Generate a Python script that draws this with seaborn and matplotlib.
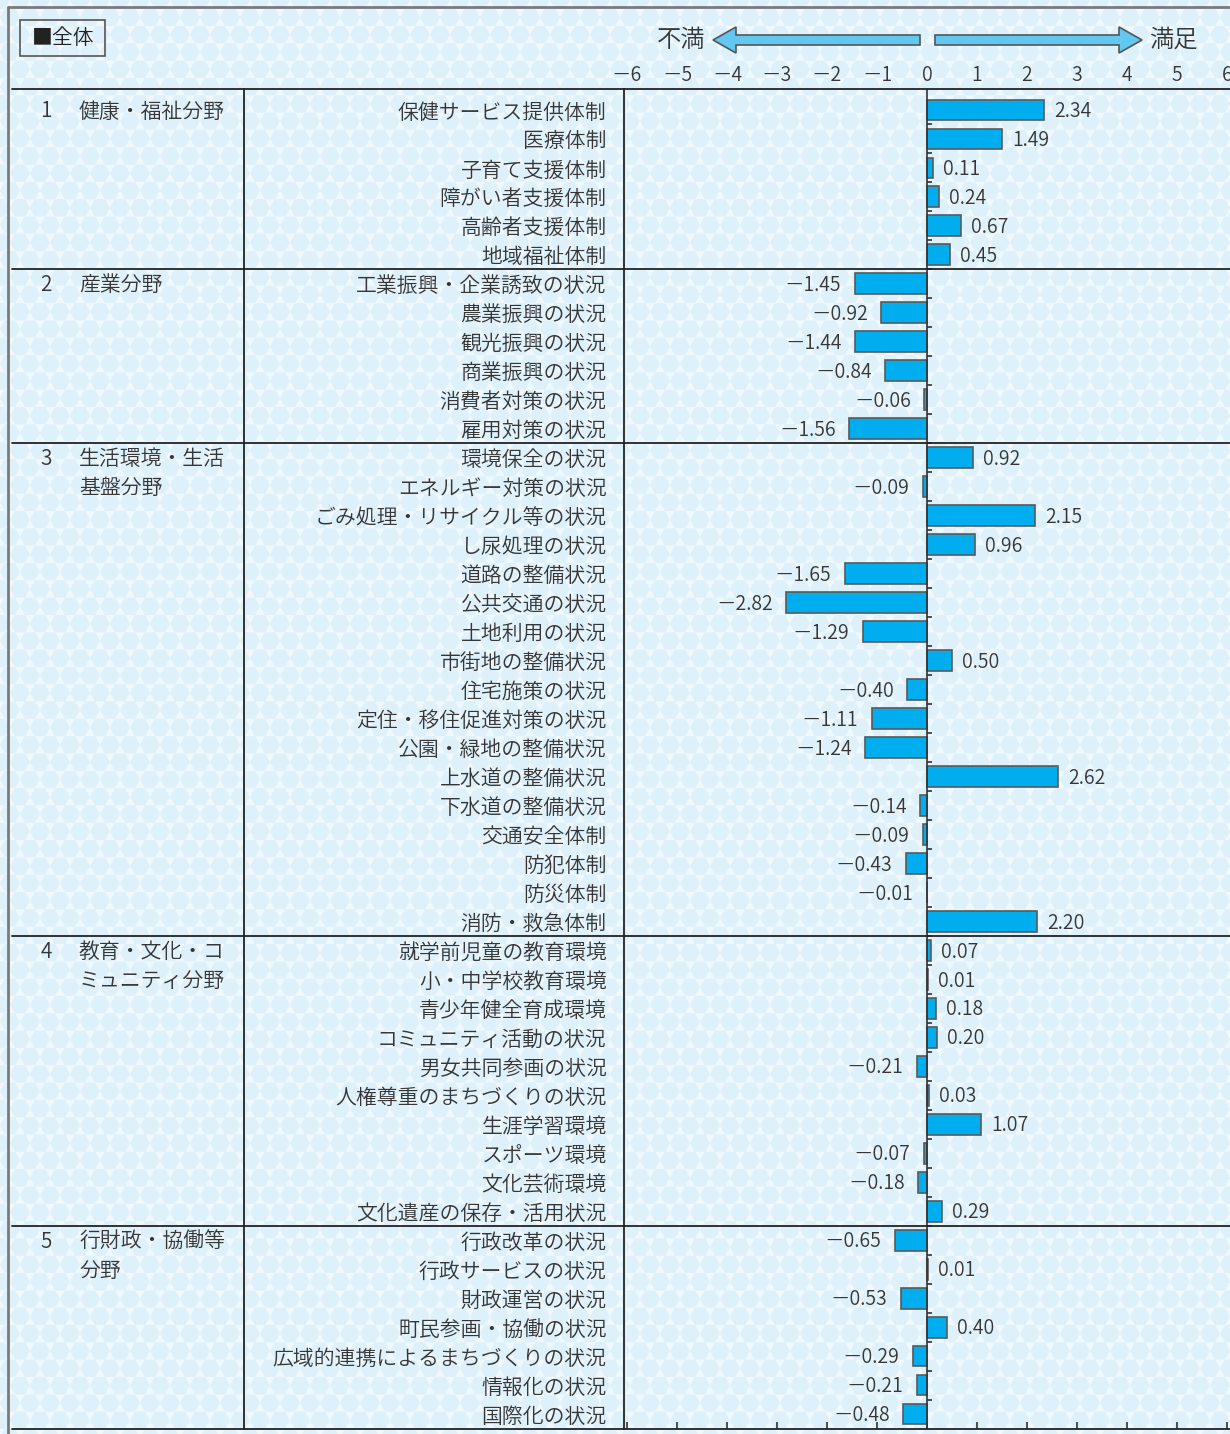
import numpy as np
import pandas as pd
import matplotlib
matplotlib.use('Agg')
import matplotlib.pyplot as plt
import matplotlib.transforms as mtransforms
from matplotlib.patches import RegularPolygon, Rectangle, Polygon
from matplotlib.collections import PatchCollection
import seaborn as sns

# data, one list per field
groups = ['健康・福祉分野', '産業分野', '生活環境・生活\n基盤分野',
          '教育・文化・コ\nミュニティ分野', '行財政・協働等\n分野']

items_1 = ['保健サービス提供体制', '医療体制', '子育て支援体制', '障がい者支援体制',
           '高齢者支援体制', '地域福祉体制']
values_1 = [2.34, 1.49, 0.11, 0.24, 0.67, 0.45]

items_2 = ['工業振興・企業誘致の状況', '農業振興の状況', '観光振興の状況', '商業振興の状況',
           '消費者対策の状況', '雇用対策の状況']
values_2 = [-1.45, -0.92, -1.44, -0.84, -0.06, -1.56]

items_3 = ['環境保全の状況', 'エネルギー対策の状況', 'ごみ処理・リサイクル等の状況', 'し尿処理の状況',
           '道路の整備状況', '公共交通の状況', '土地利用の状況', '市街地の整備状況',
           '住宅施策の状況', '定住・移住促進対策の状況', '公園・緑地の整備状況', '上水道の整備状況',
           '下水道の整備状況', '交通安全体制', '防犯体制', '防災体制', '消防・救急体制']
values_3 = [0.92, -0.09, 2.15, 0.96, -1.65, -2.82, -1.29, 0.50, -0.40, -1.11, -1.24,
            2.62, -0.14, -0.09, -0.43, -0.01, 2.20]

items_4 = ['就学前児童の教育環境', '小・中学校教育環境', '青少年健全育成環境', 'コミュニティ活動の状況',
           '男女共同参画の状況', '人権尊重のまちづくりの状況', '生涯学習環境', 'スポーツ環境',
           '文化芸術環境', '文化遺産の保存・活用状況']
values_4 = [0.07, 0.01, 0.18, 0.20, -0.21, 0.03, 1.07, -0.07, -0.18, 0.29]

items_5 = ['行政改革の状況', '行政サービスの状況', '財政運営の状況', '町民参画・協働の状況',
           '広域的連携によるまちづくりの状況', '情報化の状況', '国際化の状況']
values_5 = [-0.65, 0.01, -0.53, 0.40, -0.29, -0.21, -0.48]

ticks = [-6, -5, -4, -3, -2, -1, 0, 1, 2, 3, 4, 5, 6]

all_items = [items_1, items_2, items_3, items_4, items_5]
all_values = [values_1, values_2, values_3, values_4, values_5]
rows = []
for g, (its, vals) in enumerate(zip(all_items, all_values)):
    for it, v in zip(its, vals):
        rows.append({'group': g, 'item': it, 'value': v})
df = pd.DataFrame(rows)

MINUS = '\uff0d'


def fmt(v, nd):
    s = f'{abs(v):.{nd}f}'
    return MINUS + s if v < 0 else s


TXT = '#363636'
sns.set_style('white')
plt.rcParams['font.family'] = ['Noto Sans CJK JP', 'DejaVu Sans']
plt.rcParams['font.weight'] = 350

W, H = 1230, 1434
fig = plt.figure(figsize=(W / 100, H / 100), dpi=100)

# background with hexagon pattern, pixel coordinates
bg = fig.add_axes([0, 0, 1, 1], zorder=0)
bg.set_xlim(0, W)
bg.set_ylim(H, 0)
bg.axis('off')
bg.add_patch(Rectangle((0, 0), W, H, color='#eef8fd', zorder=0))
a = 10.0
hexes = []
for j in range(int(H / (np.sqrt(3) * a)) + 2):
    for i in range(int(W / (2 * a)) + 2):
        cx = 2 * a * i + (j % 2) * a
        cy = np.sqrt(3) * a * j
        hexes.append(RegularPolygon((cx, cy), 6, radius=a, orientation=np.pi / 6))
bg.add_collection(PatchCollection(hexes, facecolor='#def1fb', edgecolor='none', zorder=1))

# frame
bg.plot([8, W], [7, 7], color='#7a7a7a', lw=2, zorder=3)
bg.plot([8, 8], [7, H], color='#7a7a7a', lw=2, zorder=3)

# legend box
bg.add_patch(Rectangle((20, 20), 85, 36, fill=False, edgecolor='#555555', lw=1.2, zorder=3))
bg.text(32, 38, '■全体', fontsize=15, color='#222222', va='center', ha='left', zorder=4)

# arrows
left_arrow = [(713, 40), (736, 27), (736, 35), (920, 35), (920, 45), (736, 45), (736, 53)]
right_arrow = [(1142, 40), (1119, 27), (1119, 35), (935, 35), (935, 45), (1119, 45), (1119, 53)]
for pts in (left_arrow, right_arrow):
    bg.add_patch(Polygon(pts, closed=True, facecolor='#62c8f0', edgecolor='#555555', lw=1.2, zorder=3))
bg.text(681, 40, '不満', fontsize=17.5, color=TXT, ha='center', va='center', zorder=4)
bg.text(1173, 40, '満足', fontsize=17.5, color=TXT, ha='center', va='center', zorder=4)

# bar axes
ax_left, ax_right, ax_top, ax_bottom = 624, W, 89, 1428.5
ax = fig.add_axes([ax_left / W, (H - ax_bottom) / H, (ax_right - ax_left) / W, (ax_bottom - ax_top) / H], zorder=2)
ax.patch.set_alpha(0)

sns.barplot(data=df, x='value', y='item', orient='h', color='#00aeef', saturation=1,
            edgecolor='#5a5a5a', linewidth=1.2, width=0.72, ax=ax)

n = len(df)
row_px = 28.98
top_y = -0.5 - (95.5 - ax_top) / row_px
ax.set_xlim(-6.06, 6.06)
ax.set_ylim(n - 0.5, top_y)
ax.set_xlabel('')
ax.set_ylabel('')
ax.set_xticks(ticks)
ax.set_xticklabels([fmt(t, 0) for t in ticks])
ax.tick_params(axis='x', bottom=True, top=False, labelbottom=False, labeltop=True,
               direction='in', length=5, width=1.2, color='#333333', pad=2.5,
               labelsize=14, labelcolor=TXT)
ax.tick_params(axis='y', left=False, length=0, pad=12.5, labelsize=15, labelcolor=TXT)
for s in ['top', 'right']:
    ax.spines[s].set_visible(False)
ax.spines['left'].set_color('#222222')
ax.spines['left'].set_linewidth(1.3)
ax.spines['bottom'].set_visible(False)

ax.axvline(0, color='#333333', lw=1.2, zorder=3)
ax.hlines(np.arange(n - 1) + 0.5, 0, 0.1, color='#333333', lw=1.2, zorder=3)

# value labels
for i, v in enumerate(df['value']):
    ax.annotate(fmt(v, 2), xy=(v, i), xytext=(7.5 if v >= 0 else -9.5, -1.2), textcoords='offset points',
                ha='left' if v >= 0 else 'right', va='center', fontsize=14, color=TXT)

# table lines and group labels
trans = mtransforms.blended_transform_factory(fig.transFigure, ax.transData)
sizes = [len(its) for its in all_items]
starts = np.concatenate([[0], np.cumsum(sizes)[:-1]])
line_kw = dict(color='#222222', lw=1.3, transform=trans, clip_on=False, zorder=3)
ax.plot([12 / W, 1], [top_y, top_y], **line_kw)
ax.plot([12 / W, 1], [n - 0.5, n - 0.5], **line_kw)
for s0 in starts[1:]:
    ax.plot([12 / W, 1], [s0 - 0.5, s0 - 0.5], **line_kw)
ax.plot([244 / W, 244 / W], [top_y, n - 0.5], **line_kw)

for g, (name, s0) in enumerate(zip(groups, starts)):
    ax.text(46 / W, s0 + 0.05, str(g + 1), transform=trans, ha='center', va='center',
            fontsize=15, color=TXT, clip_on=False)
    for k, line in enumerate(name.split('\n')):
        ax.text(79 / W, s0 + k + 0.05, line, transform=trans, ha='left', va='center',
                fontsize=15, color=TXT, clip_on=False)

fig.savefig('out.png', dpi=100)
